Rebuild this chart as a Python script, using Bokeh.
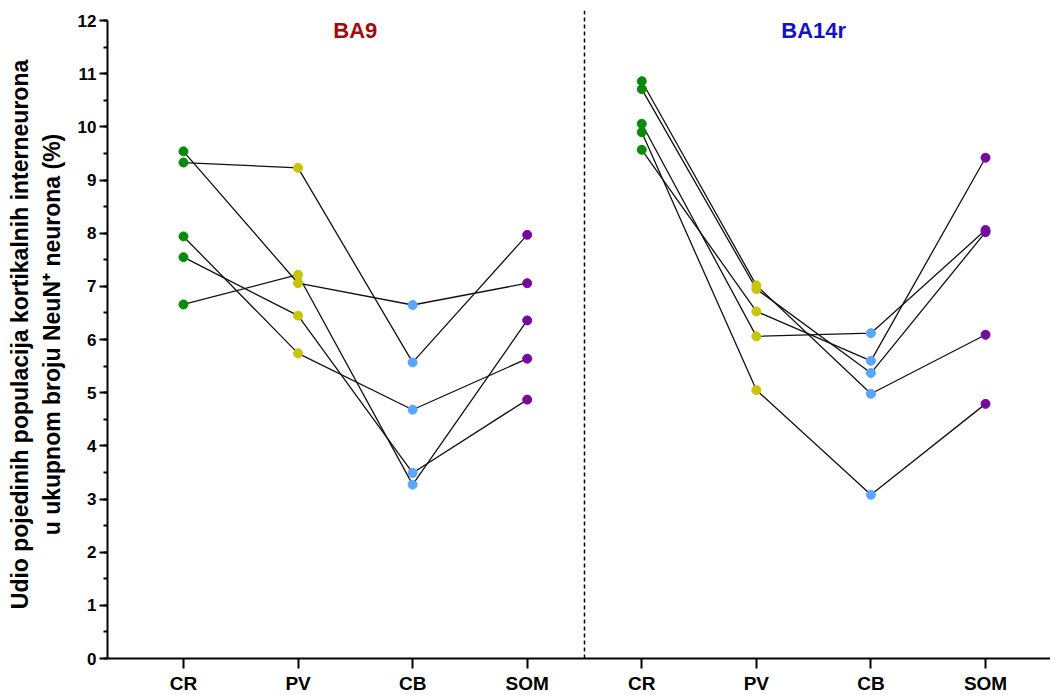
from bokeh.plotting import figure
from bokeh.models import Span, SingleIntervalTicker, FixedTicker, Range1d
from bokeh.core.properties import value
from bokeh.embed import file_html
from bokeh.resources import INLINE

categories = ["CR", "PV", "CB", "SOM"]
regions = ["BA9", "BA14r"]
region_colors = ["#A50A0A", "#1212C8"]
marker_colors = ["#0A8A0A", "#C8C40A", "#58A6FF", "#760A9E"]

# one entry per subject (same index = same subject, connected by a line)
ba9_cr = [9.33, 9.54, 6.66, 7.55, 7.94]
ba9_pv = [9.23, 7.06, 7.22, 6.45, 5.74]
ba9_cb = [5.57, 6.65, 3.27, 3.49, 4.68]
ba9_som = [7.97, 7.06, 6.36, 4.87, 5.64]

ba14r_cr = [10.86, 10.71, 10.06, 9.90, 9.57]
ba14r_pv = [7.02, 6.95, 6.06, 5.05, 6.53]
ba14r_cb = [4.98, 5.37, 6.12, 3.08, 5.60]
ba14r_som = [6.09, 8.02, 8.06, 4.79, 9.42]

groups = [[ba9_cr, ba9_pv, ba9_cb, ba9_som],
          [ba14r_cr, ba14r_pv, ba14r_cb, ba14r_som]]

FONT = "Liberation Sans"
ncat = len(categories)

p = figure(frame_width=943, frame_height=648,
           x_range=Range1d(-0.663, 2 * ncat - 1 + 0.567),
           y_range=Range1d(0, 12.19),
           output_backend="svg", toolbar_location=None,
           min_border_left=107, min_border_top=10, min_border_right=0,
           min_border_bottom=36, background_fill_color="white",
           border_fill_color="white")
p.outline_line_color = None
p.xgrid.visible = False
p.ygrid.visible = False

# connecting lines per subject
xs, ys = [], []
for g, grp in enumerate(groups):
    nsub = len(grp[0])
    for i in range(nsub):
        xs.append([g * ncat + c for c in range(ncat)])
        ys.append([grp[c][i] for c in range(ncat)])
p.multi_line(xs, ys, line_color="#111111", line_width=1.3)

# markers
for g, grp in enumerate(groups):
    for c in range(ncat):
        vals = grp[c]
        p.scatter([g * ncat + c] * len(vals), vals, size=9,
                  fill_color=marker_colors[c], line_color=marker_colors[c])

# separator
p.add_layout(Span(location=ncat - 0.5, dimension="height", line_color="black",
                  line_dash="4 3", line_width=1.5))

# region titles
p.text(x=[ncat * g + (ncat - 1) / 2 for g in range(len(regions))],
       y=[11.81] * len(regions), text=regions, text_color=region_colors,
       text_font=value(FONT), text_font_style="bold", text_font_size="22px",
       text_align="center", text_baseline="middle")

# x axis
xa = p.xaxis[0]
xa.ticker = FixedTicker(ticks=list(range(2 * ncat)))
xa.major_label_overrides = {i: categories[i % ncat] for i in range(2 * ncat)}
xa.axis_line_width = 2
xa.major_tick_line_width = 2
xa.major_tick_out = 10
xa.major_tick_in = 0
xa.minor_tick_line_color = None
xa.major_label_text_font = FONT
xa.major_label_text_font_style = "bold"
xa.major_label_text_font_size = "19px"
xa.major_label_text_color = "black"
xa.major_label_standoff = 4

# y axis
ya = p.yaxis[0]
ya.ticker = SingleIntervalTicker(interval=1, num_minor_ticks=2)
ya.bounds = (0, 12)
ya.axis_line_width = 2
ya.major_tick_line_width = 2
ya.minor_tick_line_width = 2
ya.major_tick_out = 8
ya.major_tick_in = 0
ya.minor_tick_out = 4
ya.minor_tick_in = 0
ya.major_label_text_font = FONT
ya.major_label_text_font_style = "bold"
ya.major_label_text_font_size = "17px"
ya.major_label_text_color = "black"
ya.major_label_standoff = 3
ya.axis_label = "Udio pojedinih populacija kortikalnih interneurona\nu ukupnom broju NeuN\u207a neurona (%)"
ya.axis_label_text_font = FONT
ya.axis_label_text_font_style = "bold"
ya.axis_label_text_font_size = "23px"
ya.axis_label_text_color = "black"
ya.axis_label_standoff = 10

open("out.html", "w").write(file_html(p, INLINE))
